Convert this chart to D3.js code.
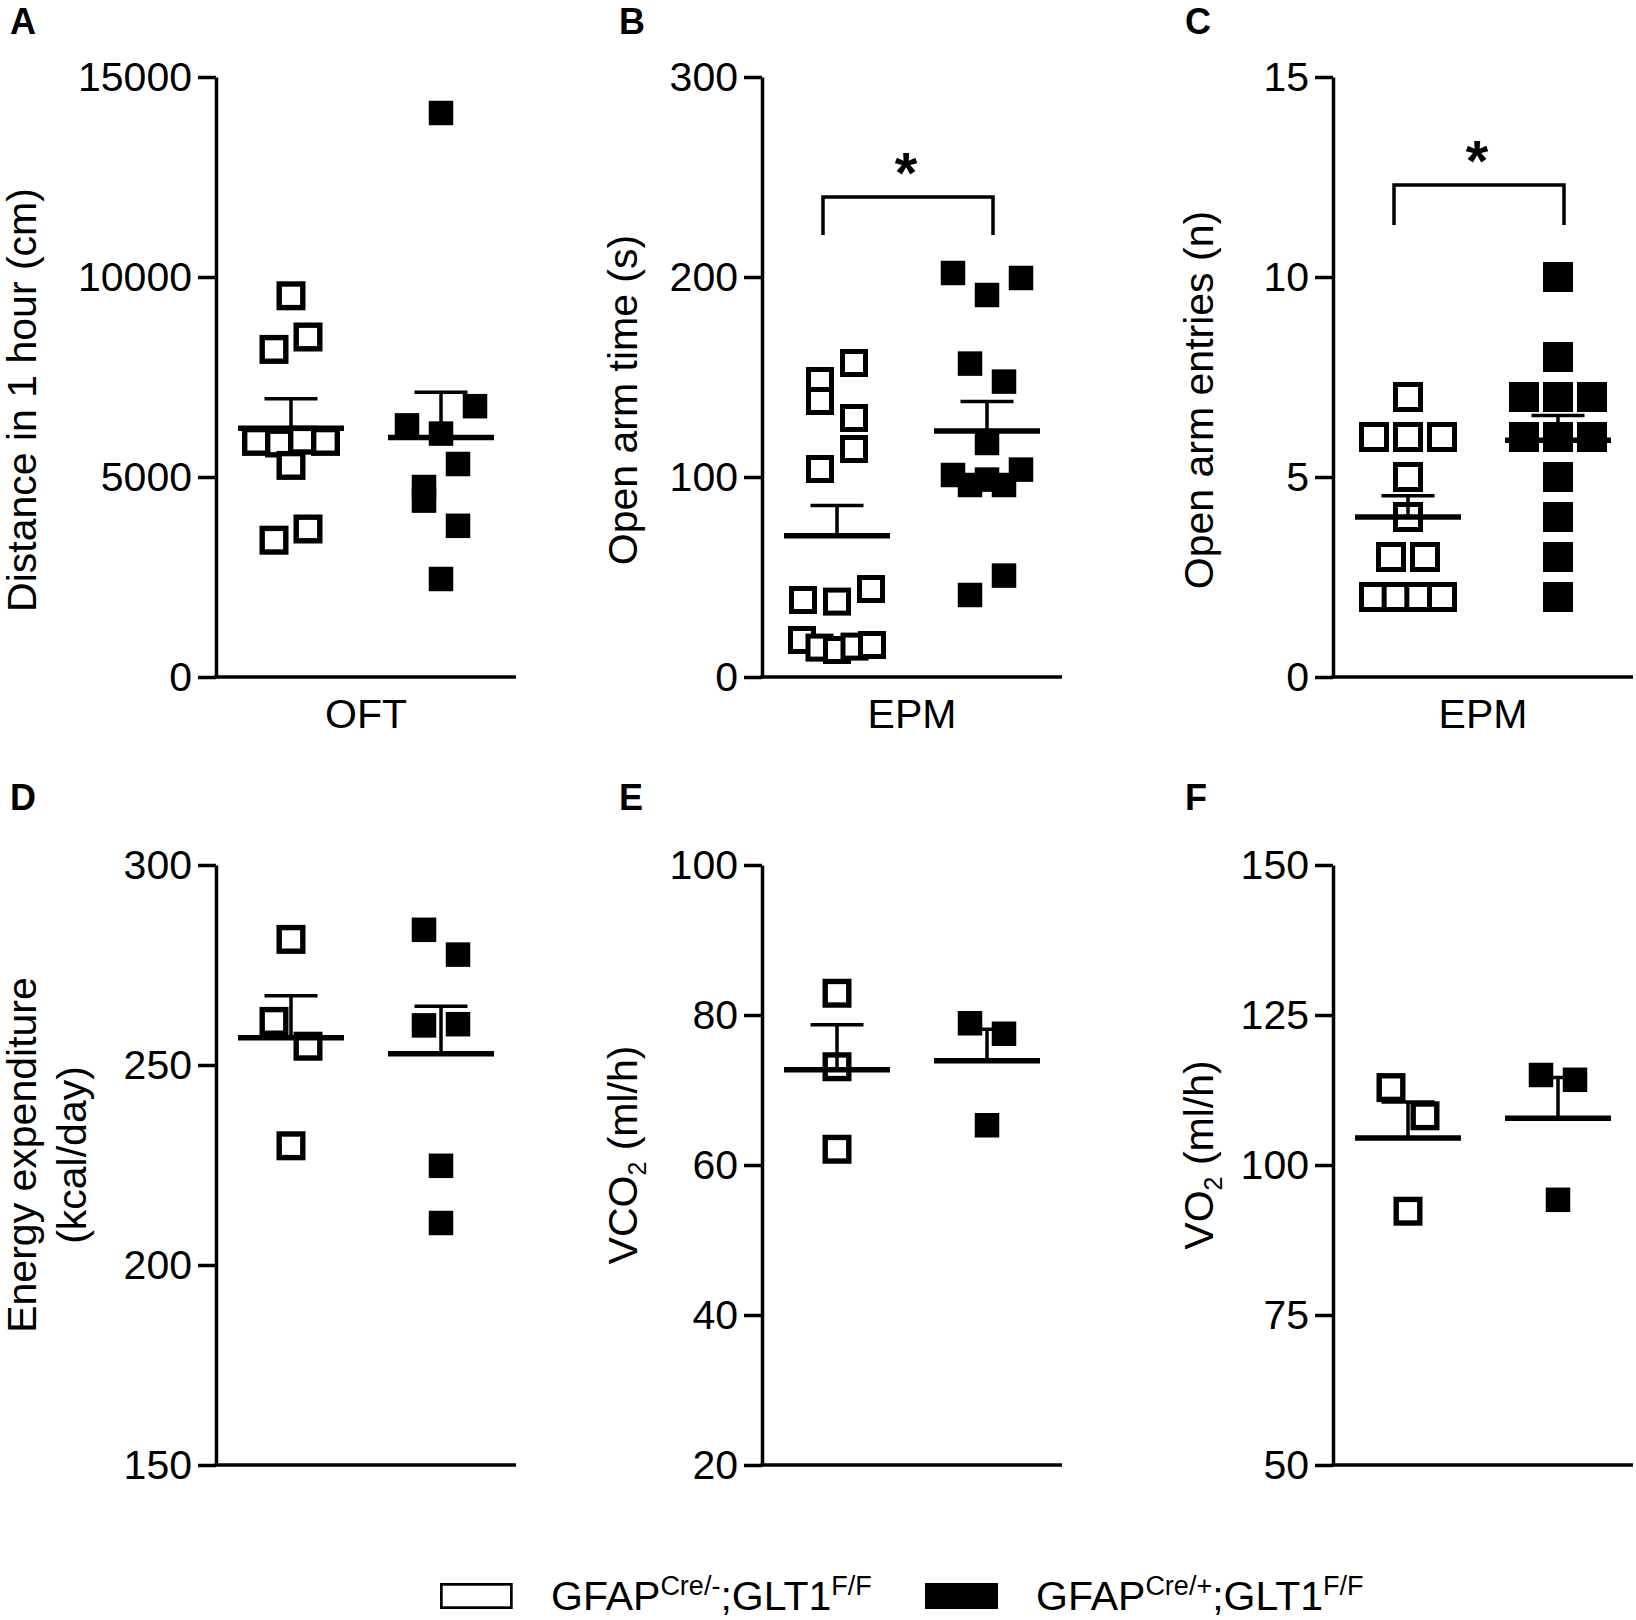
<!DOCTYPE html>
<html>
<head>
<meta charset="utf-8">
<script src="https://d3js.org/d3.v7.min.js"></script>
<style>
body { margin: 0; background: #fff; }
svg { display: block; }
text { font-family: "Liberation Sans", Arial, sans-serif; fill: #000; }
</style>
</head>
<body>
<script>
// two genotypes, open squares = control, filled = knockout
var groupNames = [["GFAP", "Cre/-", ";GLT1", "F/F"], ["GFAP", "Cre/+", ";GLT1", "F/F"]];

// A - open field, distance in 1 hour (cm)
var oftCtrl = [9530, 8190, 8500, 5890, 5850, 5290, 5920, 5890, 3420, 3700];
var oftCko = [14100, 6290, 6085, 6770, 4750, 5325, 4410, 3780, 2450];
var oftMean = [6220, 5990];
var oftSem = [735, 1130];
var oftTicks = [0, 5000, 10000, 15000];

// B - elevated plus maze, open arm time (s)
var epmTimeCtrl = [148, 157, 138, 129.5, 104, 114, 38.5, 37.7, 44, 18.5, 14.7, 13.5, 15.2, 16];
var epmTimeCko = [202, 191, 199.5, 156.7, 147.7, 117, 101, 96, 96, 98.7, 103.7, 41, 50.7];
var epmTimeMean = [70.6, 123];
var epmTimeSem = [15.2, 14.7];
var epmTimeTicks = [0, 100, 200, 300];
var epmTimeSig = [221, 240, 257]; // bracket ends, bracket top, star

// C - elevated plus maze, open arm entries (n)
var epmEntCtrl = [7, 6, 6, 6, 5, 4, 3, 3, 2, 2, 2, 2];
var epmEntCko = [10, 8, 7, 7, 7, 6, 6, 6, 5, 4, 3, 2];
var epmEntMean = [4.0, 5.92];
var epmEntSem = [0.53, 0.62];
var epmEntTicks = [0, 5, 10, 15];
var epmEntSig = [11.3, 12.3, 13.15];

// D - energy expenditure (kcal/day)
var eeCtrl = [281.4, 260.9, 254.7, 229.8];
var eeCko = [283.8, 277.6, 259.9, 260.2, 224.8, 210.5];
var eeMean = [256.8, 252.8];
var eeSem = [10.5, 11.9];
var eeTicks = [150, 200, 250, 300];

// E - VCO2 (ml/h)
var vco2Ctrl = [82.9, 73.1, 62.1];
var vco2Cko = [78.9, 77.5, 65.3];
var vco2Mean = [72.7, 73.9];
var vco2Sem = [6.0, 4.2];
var vco2Ticks = [20, 40, 60, 80, 100];

// F - VO2 (ml/h)
var vo2Ctrl = [112.9, 108.2, 92.3];
var vo2Cko = [115.0, 114.2, 94.2];
var vo2Mean = [104.5, 107.8];
var vo2Sem = [6.0, 6.8];
var vo2Ticks = [50, 75, 100, 125, 150];

var panels = [
  {key: "A", ctrl: oftCtrl, cko: oftCko, mean: oftMean, sem: oftSem, ticks: oftTicks,
   title: [[{t: "Distance in 1 hour (cm)"}]], xLabel: "OFT"},
  {key: "B", ctrl: epmTimeCtrl, cko: epmTimeCko, mean: epmTimeMean, sem: epmTimeSem, ticks: epmTimeTicks,
   title: [[{t: "Open arm time (s)"}]], xLabel: "EPM", sig: epmTimeSig},
  {key: "C", ctrl: epmEntCtrl, cko: epmEntCko, mean: epmEntMean, sem: epmEntSem, ticks: epmEntTicks,
   title: [[{t: "Open arm entries (n)"}]], xLabel: "EPM", sig: epmEntSig},
  {key: "D", ctrl: eeCtrl, cko: eeCko, mean: eeMean, sem: eeSem, ticks: eeTicks,
   title: [[{t: "Energy expenditure"}], [{t: "(kcal/day)"}]]},
  {key: "E", ctrl: vco2Ctrl, cko: vco2Cko, mean: vco2Mean, sem: vco2Sem, ticks: vco2Ticks,
   title: [[{t: "VCO"}, {t: "2", sub: true}, {t: " (ml/h)"}]]},
  {key: "F", ctrl: vo2Ctrl, cko: vo2Cko, mean: vo2Mean, sem: vo2Sem, ticks: vo2Ticks,
   title: [[{t: "VO"}, {t: "2", sub: true}, {t: " (ml/h)"}]]}
];

// layout
var W = 1636, H = 1620;
var axisX = [216, 762, 1333], titleX = [45, 646, 1222], letterX = [10, 619, 1185];
var rowTop = [77, 865], rowBottom = [677, 1465], titleCY = [400, 1155], letterY = [34, 810];
var axisLen = 300;
// symbol sizes: filled side, open side, open stroke
var sym = {A: [24.5, 23.6, 5.4], B: [24.5, 23, 5], C: [30, 25, 5], D: [24.5, 23.6, 5.4], E: [24.5, 23.6, 5.4], F: [24.5, 23.6, 5.4]};

var svg = d3.select("body").append("svg").attr("width", W).attr("height", H);

// spread points that sit at about the same height, Prism-like
function spread(vals, y, S) {
  var order = vals.map(function(v, i) { return i; })
    .sort(function(a, b) { return (vals[b] - vals[a]) || (a - b); });
  var off = vals.map(function() { return 0; });
  var clusters = [], cur = null;
  order.forEach(function(i) {
    var py = y(vals[i]);
    var lim = cur && cur.members.length < 3 ? 1.2 * S : 0.6 * S;
    if (cur && py - cur.prev < S + 1 && py - cur.top < lim) {
      cur.members.push(i); cur.prev = py;
    } else {
      cur = {top: py, prev: py, members: [i]};
      clusters.push(cur);
    }
  });
  clusters.forEach(function(c) {
    var m = c.members.slice().sort(d3.ascending), n = m.length;
    if (n < 2) return;
    var sp = Math.min(34, (98 - S) / (n - 1));
    m.forEach(function(i, k) { off[i] = (k - (n - 1) / 2) * sp; });
  });
  return off;
}

panels.forEach(function(p, pi) {
  var col = pi % 3, row = Math.floor(pi / 3);
  var ax = axisX[col];
  var s = sym[p.key];
  var y = d3.scaleLinear()
    .domain([p.ticks[0], p.ticks[p.ticks.length - 1]])
    .range([rowBottom[row], rowTop[row]]);
  var x = d3.scalePoint().domain([0, 1]).range([ax, ax + axisLen]).padding(0.5);
  var g = svg.append("g");

  // panel letter
  g.append("text").attr("x", letterX[col]).attr("y", letterY[row])
    .attr("font-size", 36).attr("font-weight", "bold").text(p.key);

  // y axis
  var ga = g.append("g").attr("transform", "translate(" + ax + ",0)")
    .call(d3.axisLeft(y).tickValues(p.ticks).tickSize(18).tickSizeOuter(0)
      .tickPadding(6).tickFormat(d3.format("d")));
  ga.attr("font-size", 41).attr("font-family", '"Liberation Sans", Arial, sans-serif');
  ga.select(".domain").attr("stroke", "#000").attr("stroke-width", 3.5);
  ga.selectAll(".tick line").attr("stroke", "#000").attr("stroke-width", 3.5);
  ga.selectAll(".tick text").attr("fill", "#000");

  // x axis line
  g.append("line").attr("x1", ax - 1.75).attr("x2", ax + axisLen)
    .attr("y1", rowBottom[row]).attr("y2", rowBottom[row])
    .attr("stroke", "#000").attr("stroke-width", 3.5);
  if (p.xLabel) {
    g.append("text").attr("x", ax + axisLen / 2).attr("y", 728)
      .attr("text-anchor", "middle").attr("font-size", 41).text(p.xLabel);
  }

  // y axis title
  p.title.forEach(function(line, li) {
    var t = g.append("text")
      .attr("transform", "translate(" + (titleX[col] + li * 50) + "," + titleCY[row] + ") rotate(-90)")
      .attr("text-anchor", "middle").attr("font-size", 41);
    line.forEach(function(seg) {
      if (seg.sub) {
        t.append("tspan").attr("font-size", 25).attr("dy", 9).text(seg.t);
      } else {
        t.append("tspan").attr("dy", t.selectAll("tspan").size() ? -9 : 0).text(seg.t);
      }
    });
  });

  // points
  var S = s[0], openOuter = s[1] + s[2];
  var offC = spread(p.ctrl, y, openOuter);
  var offK = spread(p.cko, y, S);
  g.append("g").selectAll("rect").data(p.ctrl).join("rect")
    .attr("x", function(d, i) { return x(0) + offC[i] - s[1] / 2; })
    .attr("y", function(d) { return y(d) - s[1] / 2; })
    .attr("width", s[1]).attr("height", s[1])
    .attr("fill", "#fff").attr("stroke", "#000").attr("stroke-width", s[2]);
  g.append("g").selectAll("rect").data(p.cko).join("rect")
    .attr("x", function(d, i) { return x(1) + offK[i] - S / 2; })
    .attr("y", function(d) { return y(d) - S / 2; })
    .attr("width", S).attr("height", S).attr("fill", "#000");

  // mean and upper SEM
  [0, 1].forEach(function(k) {
    var cx = x(k), my = y(p.mean[k]), sy = y(p.mean[k] + p.sem[k]);
    g.append("line").attr("x1", cx - 53).attr("x2", cx + 53).attr("y1", my).attr("y2", my)
      .attr("stroke", "#000").attr("stroke-width", 5.5);
    g.append("line").attr("x1", cx).attr("x2", cx).attr("y1", my).attr("y2", sy)
      .attr("stroke", "#000").attr("stroke-width", 3.5);
    g.append("line").attr("x1", cx - 26.5).attr("x2", cx + 26.5).attr("y1", sy).attr("y2", sy)
      .attr("stroke", "#000").attr("stroke-width", 3.5);
  });

  // significance bracket
  if (p.sig) {
    var bx1 = x(0) - 14, bx2 = x(1) + 6;
    g.append("path")
      .attr("d", "M" + bx1 + "," + y(p.sig[0]) + "V" + y(p.sig[1]) + "H" + bx2 + "V" + y(p.sig[0]))
      .attr("fill", "none").attr("stroke", "#000").attr("stroke-width", 3.5);
    g.append("text").attr("x", (bx1 + bx2) / 2 - 2).attr("y", y(p.sig[2]) + 30)
      .attr("text-anchor", "middle").attr("font-size", 58).attr("font-weight", "bold").text("*");
  }
});

// legend
var legX = [440, 925];
groupNames.forEach(function(name, i) {
  svg.append("rect").attr("x", legX[i] + (i ? 0 : 1.35)).attr("y", 1583 + (i ? 0 : 1.35))
    .attr("width", i ? 73 : 70).attr("height", i ? 26 : 23.3)
    .attr("fill", i ? "#000" : "#fff").attr("stroke", "#000").attr("stroke-width", i ? 0 : 2.7);
  var t = svg.append("text").attr("x", legX[i] + 111).attr("y", 1610).attr("font-size", 41);
  t.append("tspan").text(name[0]);
  t.append("tspan").attr("font-size", 27).attr("dy", -15).text(name[1]);
  t.append("tspan").attr("dy", 15).text(name[2]);
  t.append("tspan").attr("font-size", 27).attr("dy", -15).text(name[3]);
});
</script>
</body>
</html>
